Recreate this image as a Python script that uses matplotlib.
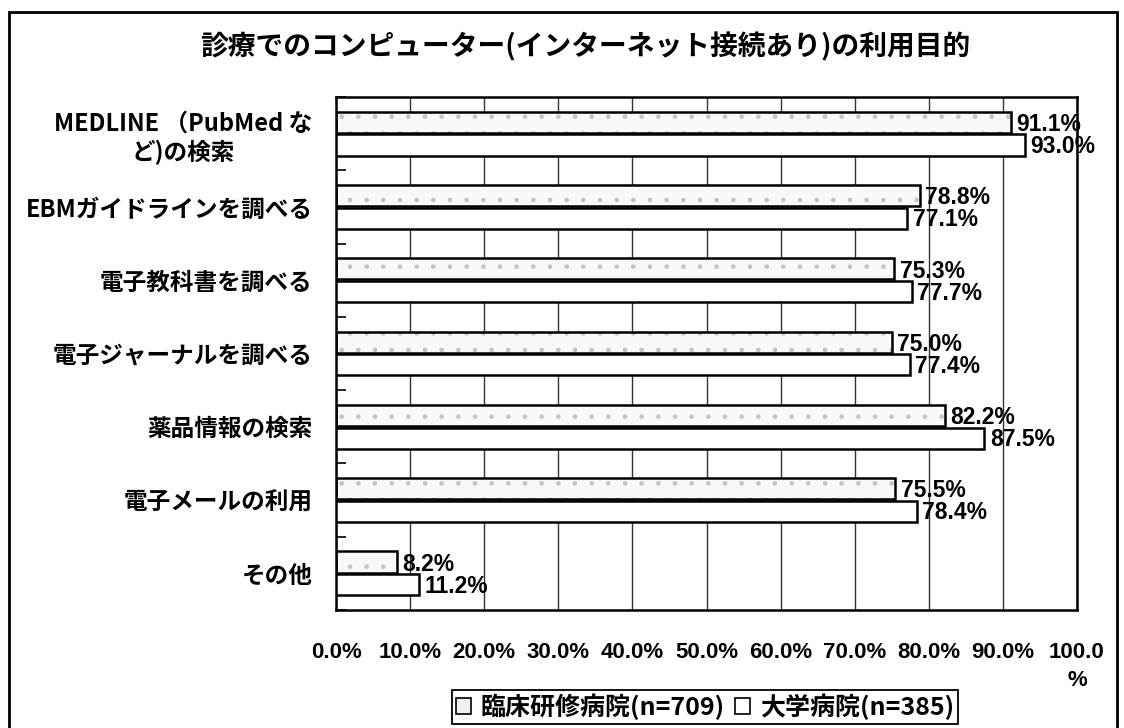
import matplotlib
matplotlib.use("Agg")
import matplotlib.pyplot as plt
import numpy as np
from matplotlib.patches import Patch, Rectangle

plt.rcParams['font.family'] = ['Noto Sans CJK JP', 'DejaVu Sans']
plt.rcParams['hatch.linewidth'] = 0.9

# Data
categories = [
    "MEDLINE （PubMed な\nど)の検索",
    "EBMガイドラインを調べる",
    "電子教科書を調べる",
    "電子ジャーナルを調べる",
    "薬品情報の検索",
    "電子メールの利用",
    "その他",
]
rinsho = [91.1, 78.8, 75.3, 75.0, 82.2, 75.5, 8.2]
daigaku = [93.0, 77.1, 77.7, 77.4, 87.5, 78.4, 11.2]
series_names = ["臨床研修病院(n=709)", "大学病院(n=385)"]
xticks = [0, 10, 20, 30, 40, 50, 60, 70, 80, 90, 100]
xtick_labels = ["0.0%", "10.0%", "20.0%", "30.0%", "40.0%", "50.0%",
                "60.0%", "70.0%", "80.0%", "90.0%", "100.0\n%"]
title = "診療でのコンピューター(インターネット接続あり)の利用目的"

num_font = ['Liberation Sans', 'Noto Sans CJK JP']

fig = plt.figure(figsize=(11.24, 7.28), dpi=100)
ax = fig.add_axes([336 / 1124, 1 - 610 / 728, (1077 - 336) / 1124, (610 - 97) / 728])

y = np.arange(len(categories))
h = 0.29
off = 0.155

# stippled bars for the first series: hatch layer then outline
ax.barh(y - off, rinsho, height=h, color='#f8f8f8', hatch='.', edgecolor='#c4c4c4',
        linewidth=0, zorder=2)
ax.barh(y - off, rinsho, height=h, fill=False, edgecolor='black', linewidth=1.8, zorder=3)
ax.barh(y + off, daigaku, height=h, color='white', edgecolor='black', linewidth=1.8, zorder=3)

for yi, v in zip(y, rinsho):
    ax.annotate(f"{v:.1f}%", (v, yi - off + 0.03), xytext=(4, 0), textcoords='offset points',
                va='center', ha='left', fontsize=16.5, fontweight='bold', family=num_font, zorder=4)
for yi, v in zip(y, daigaku):
    ax.annotate(f"{v:.1f}%", (v, yi + off + 0.02), xytext=(4, 0), textcoords='offset points',
                va='center', ha='left', fontsize=16.5, fontweight='bold', family=num_font, zorder=4)

ax.set_xlim(0, 100)
ax.set_ylim(len(categories) - 0.5, -0.5)

ax.set_xticks(xticks)
ax.set_xticklabels(xtick_labels, fontsize=16, fontweight='bold', family=num_font)
for lbl in ax.get_xticklabels():
    lbl.set_linespacing(1.45)
ax.tick_params(axis='x', length=0, pad=23)
ax.grid(axis='x', color='#333333', linewidth=1.0, zorder=1)

ax.set_yticks(y)
ax.set_yticklabels(categories, fontsize=17, fontweight='bold', multialignment='center')
ax.tick_params(axis='y', which='major', length=0, pad=17)
ax.set_yticks(np.arange(len(categories) + 1) - 0.5, minor=True)
ax.tick_params(axis='y', which='minor', direction='in', length=7, width=1.2)

for s in ax.spines.values():
    s.set_linewidth(1.8)

fig.text(585 / 1124, 1 - 47 / 728, title, ha='center', va='center',
         fontsize=20, fontweight='bold')

handles = [Patch(facecolor='#f0f0f0', edgecolor='black', linewidth=1.2),
           Patch(facecolor='white', edgecolor='black', linewidth=1.2)]
leg = fig.legend(handles, series_names, loc='center', bbox_to_anchor=(705 / 1124, 1 - 707 / 728),
                 ncol=2, frameon=True, fancybox=False, edgecolor='black', framealpha=1,
                 borderpad=0.15, handlelength=0.6, handleheight=0.6, handletextpad=0.4,
                 columnspacing=0.4, prop={'size': 18, 'weight': 'bold'})
leg.get_frame().set_linewidth(1.3)

# outer chart frame
fig.add_artist(Rectangle((9 / 1124, -0.05), (1117 - 9) / 1124, 1.05 - 12 / 728,
                         transform=fig.transFigure, fill=False, edgecolor='black', linewidth=2))

fig.savefig("out.png", dpi=100)
